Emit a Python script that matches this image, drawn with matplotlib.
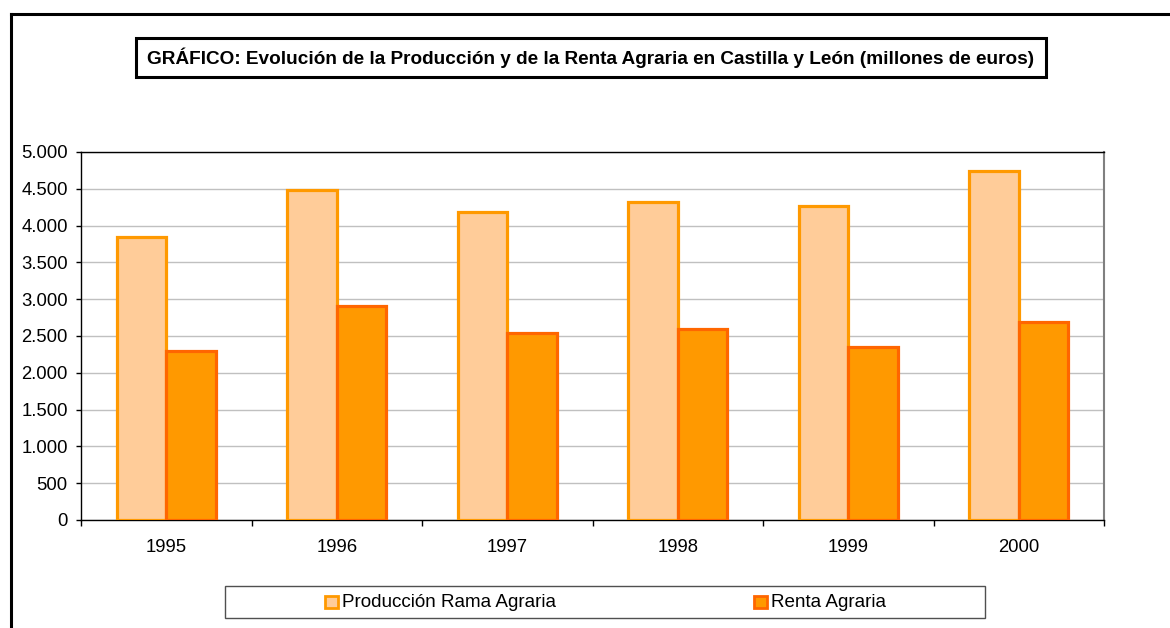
import matplotlib
matplotlib.use("Agg")
import matplotlib.pyplot as plt
import numpy as np
from matplotlib.lines import Line2D
from matplotlib.patches import Rectangle

years = ["1995", "1996", "1997", "1998", "1999", "2000"]
produccion = [3845, 4485, 4185, 4320, 4265, 4745]
renta = [2300, 2910, 2545, 2595, 2350, 2690]
yticks = [0, 500, 1000, 1500, 2000, 2500, 3000, 3500, 4000, 4500, 5000]
ytick_labels = ["0", "500", "1.000", "1.500", "2.000", "2.500", "3.000", "3.500", "4.000", "4.500", "5.000"]
title = "GRÁFICO: Evolución de la Producción y de la Renta Agraria en Castilla y León (millones de euros)"
series_names = ["Producción Rama Agraria", "Renta Agraria"]

plt.rcParams['font.family'] = ['Liberation Sans', 'DejaVu Sans']

W, H = 1170, 628
fig = plt.figure(figsize=(W/100, H/100), dpi=100)

def fx(px):
    return px / W

def fy(py):
    return 1 - py / H

# axes in pixel coords: left 81, right 1104, top 152, bottom 520
ax = fig.add_axes([fx(81), fy(520), (1104-81)/W, (520-152)/H])
x = np.arange(len(years))
bw = 0.29
ax.bar(x - bw/2, produccion, width=bw, color="#FFCC99", edgecolor="#FF9900", linewidth=2.3, zorder=3)
ax.bar(x + bw/2, renta, width=bw, color="#FF9900", edgecolor="#FF6600", linewidth=2.3, zorder=3)

ax.set_xlim(-0.5, len(years) - 0.5)
ax.set_ylim(0, 5000)
ax.set_yticks(yticks)
ax.set_yticklabels(ytick_labels, fontsize=13.3)
ax.yaxis.grid(True, color="#C0C0C0", linewidth=1, zorder=0)
ax.set_axisbelow(True)
ax.set_xticks(x)
ax.set_xticklabels(years, fontsize=13.3)
ax.tick_params(axis='x', length=0, pad=14)
ax.set_xticks(np.arange(-0.5, len(years)), minor=True)
ax.tick_params(axis='x', which='minor', length=4.5, width=1, color='black', direction='out')
ax.tick_params(axis='y', length=3.5, width=1, direction='out', pad=6)
for s in ['left', 'bottom', 'top']:
    ax.spines[s].set_color('black')
    ax.spines[s].set_linewidth(1)
ax.spines['right'].set_color('#808080')
ax.spines['right'].set_linewidth(1.5)

# outer border (left and top visible)
fig.add_artist(Line2D([fx(11), fx(11)], [0, fy(14)], transform=fig.transFigure, color='black', linewidth=2.2))
fig.add_artist(Line2D([fx(11), 1], [fy(14), fy(14)], transform=fig.transFigure, color='black', linewidth=2.2))

# title box
fig.add_artist(Rectangle((fx(136), fy(77)), (1046-136)/W, (77-38)/H, transform=fig.transFigure,
                         facecolor='white', edgecolor='black', linewidth=2.2))
fig.text(fx(590.5), fy(58), title, ha='center', va='center', fontsize=13.7, fontweight='bold')

# legend box
fig.add_artist(Rectangle((fx(225), fy(618)), (985-225)/W, (618-586)/H, transform=fig.transFigure,
                         facecolor='white', edgecolor='#505050', linewidth=1))
for (px, name, fc, ec) in [(325, series_names[0], "#FFCC99", "#FF9900"), (754, series_names[1], "#FF9900", "#FF6600")]:
    fig.add_artist(Rectangle((fx(px), fy(608)), 13/W, 12/H, transform=fig.transFigure,
                             facecolor=fc, edgecolor=ec, linewidth=2))
    fig.text(fx(px + 17), fy(602.5), name, ha='left', va='center', fontsize=13.6)

fig.savefig("out.png", dpi=100)
